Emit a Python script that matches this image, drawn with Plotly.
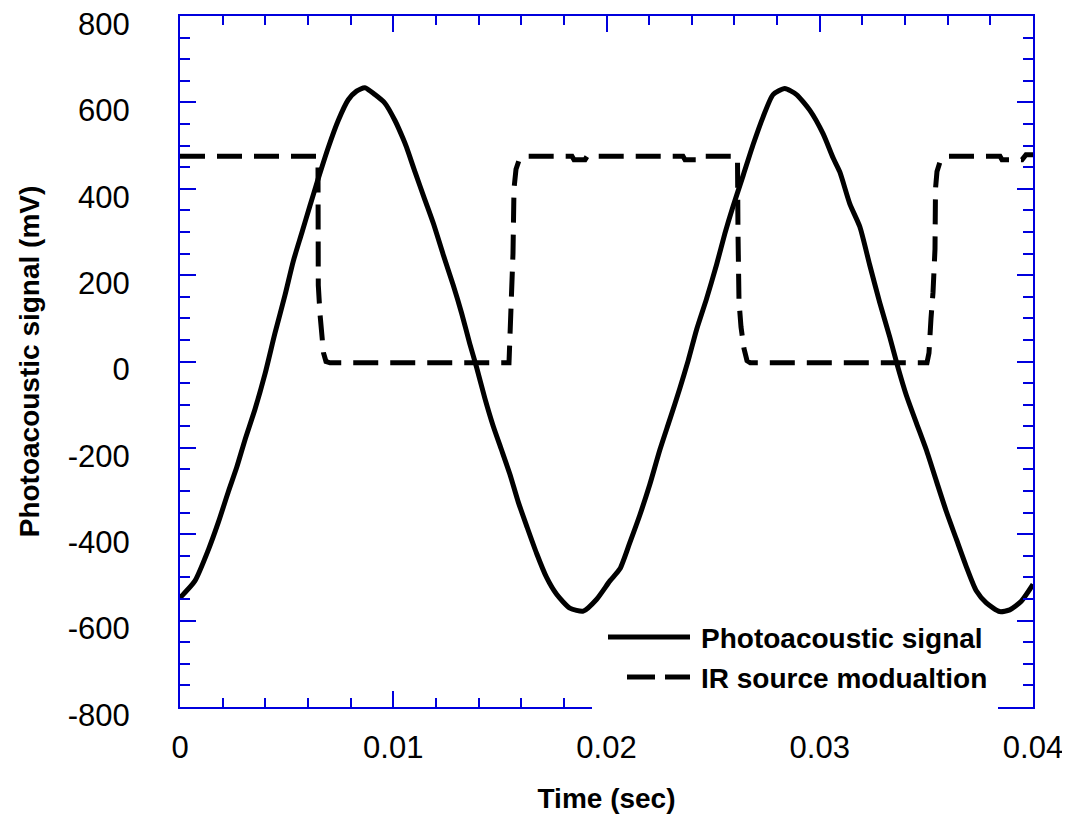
import plotly.graph_objects as go

# Photoacoustic signal
sig_t = [0.0, 0.0007, 0.00133, 0.0018, 0.00227, 0.00266, 0.00305, 0.00352, 0.00398,
         0.00445, 0.00492, 0.00531, 0.0057, 0.00609, 0.00648, 0.00695, 0.00742, 0.00789,
         0.00828, 0.00867, 0.00914, 0.00961, 0.01008, 0.01047, 0.01063, 0.01102, 0.01148,
         0.01188, 0.01234, 0.01281, 0.0132, 0.01359, 0.01391, 0.0143, 0.01469, 0.01508,
         0.01547, 0.01586, 0.01625, 0.01672, 0.01719, 0.01766, 0.01828, 0.01891, 0.01953,
         0.02016, 0.02063, 0.02109, 0.02156, 0.02203, 0.0225, 0.02297, 0.02344, 0.02383,
         0.02422, 0.02469, 0.02516, 0.02555, 0.02594, 0.02641, 0.02688, 0.02734, 0.02781,
         0.02836, 0.02891, 0.02953, 0.03016, 0.03063, 0.03094, 0.03141, 0.03188, 0.03234,
         0.03281, 0.03328, 0.03367, 0.03406, 0.03453, 0.035, 0.03547, 0.03594, 0.03641,
         0.03688, 0.03734, 0.03781, 0.03844, 0.03891, 0.03945, 0.04]
sig_v = [-547, -508, -436, -372, -301, -245, -181, -110, -30,
         65, 153, 232, 296, 360, 423, 495, 558, 606,
         626, 634, 618, 598, 558, 515, 495, 439, 375,
         320, 248, 177, 113, 41, -14, -86, -150, -205,
         -261, -325, -380, -444, -500, -539, -571, -578, -551,
         -508, -480, -420, -356, -285, -205, -134, -62, 2,
         73, 145, 224, 296, 360, 431, 503, 566, 618,
         632, 618, 582, 527, 471, 439, 365, 312, 224,
         137, 57, -14, -78, -142, -205, -277, -348, -412,
         -476, -531, -559, -579, -575, -555, -516]

# IR source modulation
ir_t = [0.0, 0.006401, 0.006471, 0.006485, 0.006565, 0.006659, 0.006729, 0.006846, 0.007034,
        0.015428, 0.015475, 0.015615, 0.015662, 0.015756, 0.015897, 0.016131,
        0.018382, 0.018476, 0.018992, 0.019086,
        0.023587, 0.023681, 0.024244, 0.024338,
        0.026073, 0.026143, 0.026166, 0.026213, 0.026307, 0.026448, 0.026589, 0.026741,
        0.035029, 0.035123, 0.035217, 0.035311, 0.035404, 0.035428, 0.035498, 0.035639,
        0.035826, 0.036014, 0.038453, 0.038546, 0.039484, 0.039672, 0.04]
ir_v = [475, 475, 468, 177, 110, 50, 20, 0, -3,
        -3, 60, 250, 400, 445, 466, 475,
        475, 467, 467, 475,
        475, 467, 467, 475,
        475, 468, 300, 140, 80, 30, 2, -3,
        -3, 20, 100, 160, 260, 400, 440, 462,
        472, 475, 475, 467, 467, 479, 479]

x_tickvals = [0, 0.01, 0.02, 0.03, 0.04]
x_ticktext = ["0", "0.01", "0.02", "0.03", "0.04"]
y_tickvals = [-800, -600, -400, -200, 0, 200, 400, 600, 800]
y_ticktext = ["-800", "-600", "-400", "-200", "0", "200", "400", "600", "800"]
legend_names = ["Photoacoustic signal", "IR source modualtion"]

FONT = "Liberation Sans, Arial, sans-serif"
BLUE = "#0000dd"

fig = go.Figure()
fig.add_trace(go.Scatter(x=sig_t, y=sig_v, mode="lines", name=legend_names[0],
                         line=dict(color="black", width=5, shape="spline", smoothing=0.6),
                         showlegend=False))
fig.add_trace(go.Scatter(x=ir_t, y=ir_v, mode="lines", name=legend_names[1],
                         line=dict(color="black", width=5, dash="25px,12px"), showlegend=False))

axis_common = dict(
    showline=True, linecolor=BLUE, linewidth=2, mirror="allticks",
    ticks="inside", tickcolor=BLUE, tickwidth=2,
    showgrid=False, zeroline=False, automargin=False,
    ticklabeloverflow="allow",
    tickfont=dict(family=FONT, size=31, color="black"),
)

fig.update_xaxes(range=[0, 0.04], tickvals=x_tickvals, ticktext=x_ticktext, ticklen=16,
                 minor=dict(dtick=0.002, ticks="inside", ticklen=9, tickwidth=2, tickcolor=BLUE),
                 ticklabelstandoff=12,
                 title=dict(text="<b>Time (sec)</b>", font=dict(family=FONT, size=28, color="black"),
                            standoff=32),
                 **axis_common)
fig.update_yaxes(range=[-800, 800], tickvals=y_tickvals, ticktext=y_ticktext, ticklen=16,
                 minor=dict(dtick=50, ticks="inside", ticklen=10, tickwidth=2, tickcolor=BLUE),
                 ticklabelstandoff=42, ticklabelshift=8,
                 title=dict(text="<b>Photoacoustic signal (mV)</b>", font=dict(family=FONT, size=28, color="black"),
                            standoff=20),
                 **axis_common)

# manual legend (paper coords; plot area 172..1025 x 8..699 px of the figure)
L, T = 172, 8
PW, PH = 853.0, 691.0
def px(x):
    return (x - 8 - L) / PW
def py(y):
    return (T + PH - (y - 8)) / PH

shapes = [
    dict(type="rect", xref="paper", yref="paper", x0=px(592), x1=px(998), y0=py(713), y1=py(619),
         fillcolor="white", line=dict(width=0), layer="above"),
    dict(type="line", xref="paper", yref="paper", x0=px(608), x1=px(690), y0=py(637), y1=py(637),
         line=dict(color="black", width=5), layer="above"),
    dict(type="line", xref="paper", yref="paper", x0=px(627), x1=px(655), y0=py(677), y1=py(677),
         line=dict(color="black", width=5), layer="above"),
    dict(type="line", xref="paper", yref="paper", x0=px(665), x1=px(690), y0=py(677), y1=py(677),
         line=dict(color="black", width=5), layer="above"),
]
annotations = [
    dict(xref="paper", yref="paper", x=px(699), y=py(638), text="<b>" + legend_names[0] + "</b>",
         showarrow=False, xanchor="left", yanchor="middle", font=dict(family=FONT, size=28, color="black")),
    dict(xref="paper", yref="paper", x=px(699), y=py(678), text="<b>" + legend_names[1] + "</b>",
         showarrow=False, xanchor="left", yanchor="middle", font=dict(family=FONT, size=28, color="black")),
]

fig.update_layout(
    width=1062, height=806,
    margin=dict(l=L, r=1062 - L - 853, t=T, b=806 - T - 691, autoexpand=False),
    paper_bgcolor="white", plot_bgcolor="white",
    shapes=shapes, annotations=annotations,
    showlegend=False,
    font=dict(family=FONT),
)

fig.write_html("out.html")
